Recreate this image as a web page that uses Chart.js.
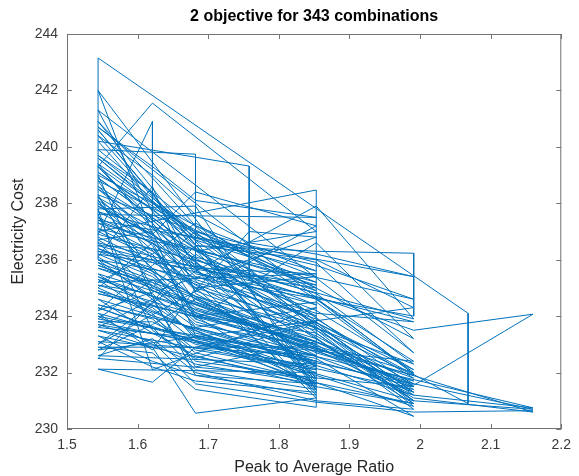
<!DOCTYPE html>
<html>
<head>
<meta charset="utf-8">
<script src="https://cdn.jsdelivr.net/npm/chart.js@4.4.0/dist/chart.umd.min.js"></script>
<style>
  html, body { margin: 0; padding: 0; background: #fff; }
  #wrap { width: 579px; height: 476px; }
</style>
</head>
<body>
<div id="wrap"><canvas id="chart"></canvas></div>
<script>
const chartTitle = "2 objective for 343 combinations";
const xLabel = "Peak to Average Ratio";
const yLabel = "Electricity Cost";

// peak to average ratio of each combination, in plotting order
const par = [
  1.544, 1.621, 1.682, 1.853, 1.544, 1.621, 1.682, 1.758, 1.853, 1.991,
  1.544, 1.621, 1.682, 1.853, 1.991, 1.544, 1.621, 1.682, 1.853,
  1.544, 1.621, 1.682, 1.853, 1.544, 1.682, 1.853, 1.991, 1.544,
  1.621, 1.621, 1.682, 1.758, 1.853, 1.544, 1.621, 1.682, 1.853, 1.991,
  1.544, 1.621, 1.682, 1.853, 1.991, 1.544, 1.621, 1.682, 1.758, 1.853, 1.991,
  1.544, 1.682, 1.853, 1.621, 1.544, 1.682, 1.853, 1.544, 1.621, 1.682, 1.853,
  1.544, 1.621, 1.682, 1.853, 1.991, 1.544, 1.621, 1.682, 1.853, 1.544, 1.621,
  1.682, 1.853, 1.991, 1.544, 1.621, 1.682, 1.853, 1.544, 1.621, 1.682, 1.853,
  1.991, 1.544, 1.621, 1.682, 1.853, 1.544, 1.621, 1.682, 1.853, 1.991, 1.544,
  1.621, 1.682, 1.758, 1.853, 1.544, 1.621, 1.682, 1.853, 1.991, 1.544, 1.621,
  1.682, 1.853, 1.544, 1.621, 1.682, 1.853, 1.991, 1.544, 1.621, 1.682, 1.853,
  1.544,
  1.544, 2.068, 2.068, 1.544, 1.621, 1.682, 1.853, 1.991, 1.544, 1.621, 1.682,
  1.853, 1.544, 1.621, 1.682, 1.758, 1.853, 1.544, 1.621, 1.682, 1.853,
  1.991, 1.544, 1.621, 1.682, 1.853, 1.544, 1.621, 1.853, 1.682, 1.853,
  1.544, 1.621, 1.682, 1.853, 1.991, 1.544, 1.621, 1.682, 1.758, 1.853,
  1.544, 1.621, 1.682, 1.853, 1.544, 1.682, 1.682, 1.853, 1.991, 1.544,
  1.621, 1.682, 1.853, 1.991, 2.16, 1.544, 1.621, 1.682, 1.853, 1.544,
  1.758, 1.758, 1.853, 1.544, 1.621, 1.682, 1.853, 1.991, 1.544, 1.621,
  1.682, 1.853, 1.544, 1.621, 1.682, 1.853, 1.991, 2.16, 1.991, 1.544,
  1.621, 1.682, 1.853, 1.544, 1.621, 1.682, 1.853, 1.853, 1.544, 1.621,
  1.682, 1.853, 1.991, 1.544, 1.621, 1.682, 1.853, 1.991, 1.991, 1.544,
  1.621, 1.682, 1.853, 1.991, 1.544, 1.621, 1.682, 1.853, 1.544, 1.621,
  1.682, 1.853, 1.544, 1.621, 1.682, 1.853, 1.991, 2.16, 1.544, 1.621,
  1.682, 1.853, 1.544, 1.621, 1.682, 1.853, 1.544, 1.621, 1.682, 1.853,
  1.991, 1.544, 1.621, 1.682, 1.853, 1.544, 1.621, 1.682, 1.853, 1.991,
  1.544, 1.621, 1.682, 1.853, 1.544, 1.621, 1.682, 1.758, 1.853, 1.991,
  1.544, 1.621, 1.682, 1.853, 1.544, 1.621, 1.682, 1.853, 1.544, 1.621,
  1.682, 1.853, 1.991, 1.544, 1.621, 1.682, 1.853, 1.991, 2.16, 1.544,
  1.621, 1.682, 1.853, 1.544, 1.621, 1.682, 1.758, 1.853, 1.991, 1.544,
  1.621, 1.682, 1.853, 1.991, 1.544, 1.621, 1.682, 1.853, 1.544, 1.621,
  1.682, 1.853, 1.991, 1.544, 1.621, 1.682, 1.853, 1.544, 1.621, 1.682,
  1.853, 1.991, 1.544, 1.621, 1.682, 1.853, 1.544, 1.621, 1.682, 1.853,
  1.991, 1.544, 1.621, 1.682, 1.853, 1.991, 1.544, 1.621, 1.682, 1.853,
  1.544, 1.621, 1.682, 1.853, 1.991, 2.16
];

// electricity cost of each combination, same order
const cost = [
  236.8, 235.9, 235.2, 234.0, 238.2, 236.5, 233.9, 233.2, 232.4, 231.5,
  239.4, 237.1, 236.0, 234.6, 232.0, 235.5, 234.2, 233.5, 231.8,
  242.0, 236.9, 238.4, 237.2, 233.0, 235.6, 237.9, 233.9, 236.9,
  240.9, 237.2, 234.9, 237.0, 236.8, 234.2, 235.8, 237.0, 235.9, 232.7,
  241.3, 237.7, 235.9, 232.9, 231.5, 232.5, 234.5, 236.2, 235.0, 233.4, 231.0,
  238.1, 233.6, 234.3, 232.1, 237.8, 237.9, 231.4, 236.1, 238.6, 234.8, 232.6,
  233.9, 235.3, 233.9, 236.6, 233.2, 239.0, 234.7, 231.9, 231.6, 235.0, 236.6,
  234.0, 234.5, 231.95, 240.7, 239.3, 238.1, 237.5, 237.6, 233.5, 232.5, 233.8,
  231.0, 234.1, 232.8, 235.0, 235.4, 238.3, 235.0, 236.5, 236.0, 234.3, 232.8,
  233.7, 234.6, 233.7, 232.2, 236.7, 237.0, 233.3, 231.5, 230.9, 239.7, 238.4,
  235.7, 235.5, 235.2, 236.2, 237.3, 234.6, 232.4, 233.6, 234.6, 232.2, 233.1,
  236.0,
  243.15, 234.1, 230.9, 237.9, 236.9, 235.6, 233.6, 231.2, 234.6, 233.4, 232.6,
  231.5, 240.6, 238.3, 236.7, 236.1, 235.0, 236.2, 235.4, 234.3, 233.0,
  230.9, 233.3, 232.4, 231.9, 231.2, 239.3, 241.55, 237.0, 236.3, 234.9,
  238.8, 236.0, 234.6, 232.7, 231.7, 235.1, 234.8, 233.2, 232.8, 232.0,
  232.12, 231.66, 232.9, 233.8, 239.9, 239.74, 235.8, 234.2, 232.1, 237.5,
  235.7, 234.0, 233.4, 231.0, 230.7, 234.0, 233.0, 232.3, 231.6, 240.2,
  239.32, 235.3, 234.4, 236.5, 236.4, 234.9, 233.3, 231.4, 233.8, 233.8,
  233.0, 232.2, 238.5, 237.3, 235.5, 234.7, 233.5, 234.07, 231.55, 235.8,
  235.1, 233.7, 232.9, 232.9, 232.7, 231.4, 230.77, 238.47, 237.0, 236.1,
  235.0, 233.7, 231.3, 239.1, 237.8, 236.5, 236.3, 236.23, 234.0, 236.0,
  234.6, 233.3, 232.5, 230.45, 234.3, 233.6, 232.1, 231.4, 240.9, 238.9,
  237.2, 235.6, 237.7, 236.7, 234.5, 233.2, 231.1, 230.6, 235.3, 234.0,
  232.8, 232.1, 233.5, 232.9, 230.56, 231.1, 238.6, 237.4, 236.1, 234.8,
  232.3, 236.4, 235.5, 234.2, 233.0, 234.8, 234.3, 233.1, 231.9, 230.8,
  239.6, 238.0, 236.9, 235.2, 237.3, 236.3, 235.1, 234.1, 233.5, 231.6,
  235.7, 235.2, 233.8, 232.6, 233.1, 232.2, 231.7, 231.3, 238.0, 236.8,
  235.4, 234.1, 233.8, 236.6, 234.9, 234.4, 232.8, 231.2, 230.75, 234.4,
  233.9, 232.7, 231.7, 240.4, 239.0, 237.6, 236.6, 236.2, 235.4, 237.4,
  236.6, 235.3, 233.9, 231.8, 235.9, 234.7, 233.6, 232.3, 232.6, 233.2,
  232.0, 231.0, 230.7, 238.9, 237.5, 236.4, 235.1, 236.3, 235.6, 234.7,
  233.6, 231.9, 234.9, 234.1, 232.4, 231.8, 239.3, 237.9, 236.8, 235.8,
  234.6, 237.1, 236.2, 234.1, 233.1, 231.3, 235.4, 234.4, 233.4, 232.4,
  233.7, 233.1, 231.6, 230.95, 230.6, 230.65
];

const xTicks = [1.5, 1.6, 1.7, 1.8, 1.9, 2, 2.1, 2.2];
const yTicks = [230, 232, 234, 236, 238, 240, 242, 244];

const points = par.map((x, i) => ({ x: x, y: cost[i] }));
const FONT = '"Liberation Sans", Arial, Helvetica, sans-serif';

// matlab style box with inward ticks, plus the title centred over the axes
const matlabBox = {
  id: "matlabBox",
  afterDraw(chart) {
    const { ctx, chartArea: a, scales } = chart;
    const sx = scales.x, sy = scales.y;
    ctx.save();
    ctx.strokeStyle = "#737373";
    ctx.lineWidth = 1;
    ctx.strokeRect(a.left + 0.5, a.top + 0.5, a.right - a.left - 1, a.bottom - a.top - 1);
    ctx.beginPath();
    xTicks.forEach(v => {
      const px = Math.round(sx.getPixelForValue(v)) + 0.5;
      ctx.moveTo(px, a.bottom); ctx.lineTo(px, a.bottom - 5);
      ctx.moveTo(px, a.top); ctx.lineTo(px, a.top + 5);
    });
    yTicks.forEach(v => {
      const py = Math.round(sy.getPixelForValue(v)) + 0.5;
      ctx.moveTo(a.left, py); ctx.lineTo(a.left + 5, py);
      ctx.moveTo(a.right, py); ctx.lineTo(a.right - 5, py);
    });
    ctx.stroke();
    ctx.fillStyle = "#000";
    ctx.font = "bold 16px " + FONT;
    ctx.textAlign = "center";
    ctx.textBaseline = "middle";
    ctx.fillText(chartTitle, (a.left + a.right) / 2, 17);
    ctx.restore();
  }
};

new Chart(document.getElementById("chart"), {
  type: "scatter",
  data: {
    datasets: [{
      data: points,
      showLine: true,
      borderColor: "#0072BD",
      borderWidth: 1,
      pointRadius: 0,
      pointHoverRadius: 0,
      tension: 0
    }]
  },
  options: {
    responsive: true,
    maintainAspectRatio: false,
    animation: false,
    layout: { padding: { top: 34, right: 10, left: 0, bottom: 0 } },
    plugins: {
      legend: { display: false },
      tooltip: { enabled: false },
      title: { display: false }
    },
    scales: {
      x: {
        type: "linear",
        min: 1.5,
        max: 2.2,
        afterBuildTicks: s => { s.ticks = xTicks.map(v => ({ value: v })); },
        afterFit: s => { s.height = 47; },
        grid: { display: false, drawTicks: false },
        border: { display: false },
        ticks: {
          padding: 8,
          color: "#3a3a3a",
          font: { family: FONT, size: 14 },
          callback: v => String(v)
        },
        title: {
          display: true,
          text: xLabel,
          color: "#262626",
          padding: { top: 0, bottom: 0 },
          font: { family: FONT, size: 16, lineHeight: 1 }
        }
      },
      y: {
        type: "linear",
        min: 230,
        max: 244,
        afterBuildTicks: s => { s.ticks = yTicks.map(v => ({ value: v })); },
        afterFit: s => { s.width = 67; },
        grid: { display: false, drawTicks: false },
        border: { display: false },
        ticks: {
          padding: 9,
          color: "#3a3a3a",
          font: { family: FONT, size: 14 },
          callback: v => String(v)
        },
        title: {
          display: true,
          text: yLabel,
          color: "#262626",
          padding: { top: 9, bottom: 0 },
          font: { family: FONT, size: 16 }
        }
      }
    }
  },
  plugins: [matlabBox]
});
</script>
</body>
</html>
